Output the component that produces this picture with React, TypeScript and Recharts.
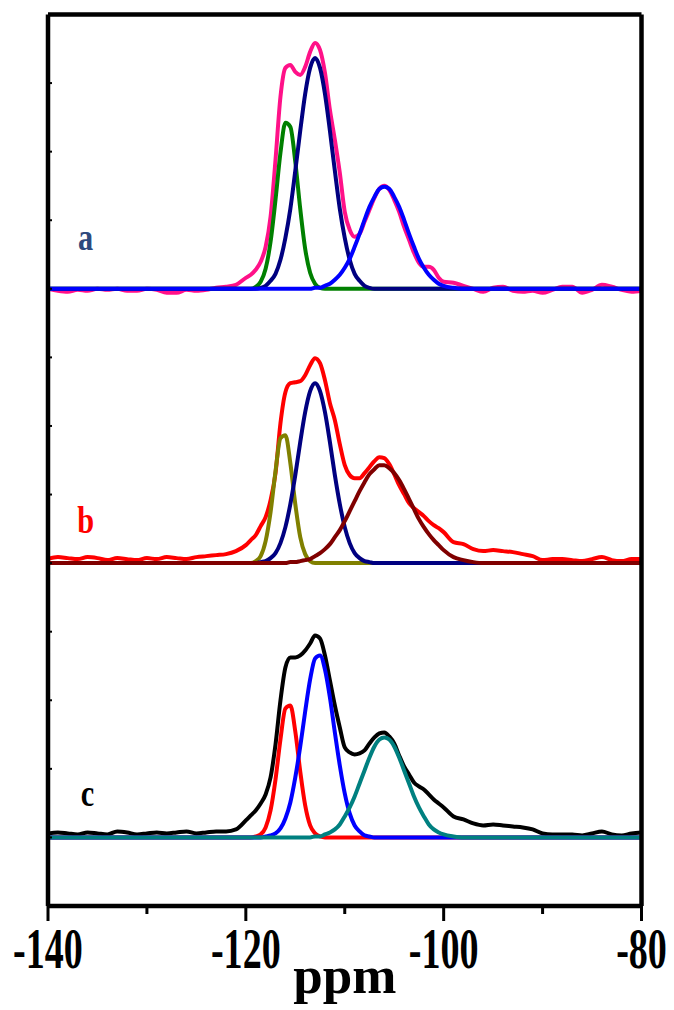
import { ComposedChart, Line, XAxis, YAxis, ReferenceDot } from 'recharts';

// chemical shift grid (ppm); finer steps across the Q-region peaks
const ppmGrid = [
  -140, -139, -138, -137, -136, -135, -134, -133, -132, -131, -130, -129, -128, -127, -126, -125, -124, -123, -122, -121,
  -120, -119.5, -119, -118.5, -118, -117.5, -117, -116.5, -116, -115.5, -115, -114.5, -114, -113.5, -113, -112.5, -112,
  -111.5, -111, -110.5, -110, -109.5, -109, -108.5, -108, -107.5, -107, -106.5, -106, -105.5, -105, -104.5, -104,
  -103.5, -103, -102.5, -102, -101.5, -101, -100.5, -100,
  -99, -98, -97, -96, -95, -94, -93, -92, -91, -90, -89, -88, -87, -86, -85, -84, -83, -82, -81, -80,
];

const xTicks = [-140, -130, -120, -110, -100, -90, -80];
const leftTicks = [0, 100, 200, 300, 400, 500, 600, 700, 800, 900, 1000, 1100, 1200, 1300];
const rightTicks = [0, 100, 200, 300, 400, 500, 600, 700, 800, 900, 1000];

// sample a: measured spectrum and fitted Q2 / Q3 / Q4 components
const aMeasured = [
  0, -2, -3, -1, -2, 0, -1, 0, -2, -2, 0, -1, -4, -4, -1, -2, -1, 1, 2, 4,
  11, 14, 19, 27, 42, 72, 129, 192, 221, 224, 217, 214, 222, 237, 246, 239, 216, 179, 149, 116, 77,
  59, 52, 55, 67, 79, 91, 100, 103, 99, 89, 77, 62, 49, 36, 26, 22, 22, 19, 11, 7,
  6, 3, 0, -3, 1, 2, -2, -3, -2, -4, -1, 2, 2, -4, -1, 4, 2, -1, -3, -2,
];
const aFit1 = [
  0, 0, 0, 0, 0, 0, 0, 0, 0, 0, 0, 0, 0, 0, 0, 0, 0, 0, 0, 0,
  0, 0, 2, 7, 20, 47, 89, 136, 166, 162, 127, 80, 40, 16, 5, 1, 0, 0, 0, 0, 0,
  0, 0, 0, 0, 0, 0, 0, 0, 0, 0, 0, 0, 0, 0, 0, 0, 0, 0, 0, 0,
  0, 0, 0, 0, 0, 0, 0, 0, 0, 0, 0, 0, 0, 0, 0, 0, 0, 0, 0, 0,
];
const aFit2 = [
  0, 0, 0, 0, 0, 0, 0, 0, 0, 0, 0, 0, 0, 0, 0, 0, 0, 0, 0, 0,
  0, 0, 0, 1, 3, 8, 15, 29, 51, 80, 118, 158, 195, 221, 231, 221, 195, 158, 118, 80, 51,
  29, 15, 8, 3, 1, 0, 0, 0, 0, 0, 0, 0, 0, 0, 0, 0, 0, 0, 0, 0,
  0, 0, 0, 0, 0, 0, 0, 0, 0, 0, 0, 0, 0, 0, 0, 0, 0, 0, 0, 0,
];
const aFit3 = [
  0, 0, 0, 0, 0, 0, 0, 0, 0, 0, 0, 0, 0, 0, 0, 0, 0, 0, 0, 0,
  0, 0, 0, 0, 0, 0, 0, 0, 0, 0, 0, 0, 0, 0, 1, 1, 3, 5, 9, 14, 21,
  30, 42, 55, 69, 82, 92, 100, 102, 100, 92, 82, 69, 55, 42, 30, 21, 14, 9, 5, 3,
  1, 0, 0, 0, 0, 0, 0, 0, 0, 0, 0, 0, 0, 0, 0, 0, 0, 0, 0, 0,
];

// sample b
const bMeasured = [
  4, 6, 5, 4, 6, 5, 3, 5, 4, 3, 5, 4, 6, 5, 4, 6, 7, 8, 9, 12,
  18, 23, 28, 37, 46, 63, 90, 140, 171, 180, 181, 182, 188, 198, 205, 200, 183, 160, 143, 119, 98,
  88, 85, 85, 90, 96, 102, 106, 105, 99, 89, 78, 69, 60, 55, 51, 47, 42, 38, 35, 31,
  21, 19, 14, 12, 13, 12, 11, 9, 7, 3, 4, 4, 3, 2, 4, 6, 3, 2, 4, 4,
];
const bFit1 = [
  0, 0, 0, 0, 0, 0, 0, 0, 0, 0, 0, 0, 0, 0, 0, 0, 0, 0, 0, 0,
  0, 0, 2, 7, 22, 51, 92, 125, 128, 100, 59, 26, 9, 2, 0, 0, 0, 0, 0, 0, 0,
  0, 0, 0, 0, 0, 0, 0, 0, 0, 0, 0, 0, 0, 0, 0, 0, 0, 0, 0, 0,
  0, 0, 0, 0, 0, 0, 0, 0, 0, 0, 0, 0, 0, 0, 0, 0, 0, 0, 0, 0,
];
const bFit2 = [
  0, 0, 0, 0, 0, 0, 0, 0, 0, 0, 0, 0, 0, 0, 0, 0, 0, 0, 0, 0,
  0, 0, 0, 1, 2, 5, 10, 20, 36, 59, 88, 121, 151, 172, 180, 172, 151, 121, 88, 59, 36,
  20, 10, 5, 2, 1, 0, 0, 0, 0, 0, 0, 0, 0, 0, 0, 0, 0, 0, 0, 0,
  0, 0, 0, 0, 0, 0, 0, 0, 0, 0, 0, 0, 0, 0, 0, 0, 0, 0, 0, 0,
];
const bFit3 = [
  0, 0, 0, 0, 0, 0, 0, 0, 0, 0, 0, 0, 0, 0, 0, 0, 0, 0, 0, 0,
  0, 0, 0, 0, 0, 0, 0, 0, 0, 1, 1, 2, 3, 4, 7, 10, 14, 19, 26, 33, 42,
  52, 62, 72, 81, 89, 94, 98, 98, 95, 90, 83, 74, 64, 54, 44, 36, 29, 23, 18, 13,
  6, 3, 1, 0, 0, 0, 0, 0, 0, 0, 0, 0, 0, 0, 0, 0, 0, 0, 0, 0,
];

// sample c
const cMeasured = [
  4, 5, 4, 3, 5, 4, 3, 6, 5, 3, 4, 5, 4, 5, 6, 4, 5, 6, 6, 8,
  17, 22, 27, 34, 43, 60, 93, 137, 170, 180, 180, 182, 187, 194, 202, 199, 182, 157, 132, 110, 90,
  85, 83, 84, 87, 94, 100, 104, 105, 101, 94, 82, 71, 63, 55, 51, 48, 43, 38, 34, 30,
  21, 18, 14, 12, 13, 12, 11, 10, 8, 4, 3, 3, 3, 2, 4, 6, 3, 2, 4, 5,
];
const cFit1 = [
  0, 0, 0, 0, 0, 0, 0, 0, 0, 0, 0, 0, 0, 0, 0, 0, 0, 0, 0, 0,
  0, 0, 1, 3, 10, 27, 58, 98, 129, 132, 106, 66, 32, 12, 4, 1, 0, 0, 0, 0, 0,
  0, 0, 0, 0, 0, 0, 0, 0, 0, 0, 0, 0, 0, 0, 0, 0, 0, 0, 0, 0,
  0, 0, 0, 0, 0, 0, 0, 0, 0, 0, 0, 0, 0, 0, 0, 0, 0, 0, 0, 0,
];
const cFit2 = [
  0, 0, 0, 0, 0, 0, 0, 0, 0, 0, 0, 0, 0, 0, 0, 0, 0, 0, 0, 0,
  0, 0, 0, 0, 1, 2, 4, 9, 19, 35, 60, 91, 126, 158, 179, 182, 168, 140, 105, 72, 44,
  24, 12, 6, 2, 1, 0, 0, 0, 0, 0, 0, 0, 0, 0, 0, 0, 0, 0, 0, 0,
  0, 0, 0, 0, 0, 0, 0, 0, 0, 0, 0, 0, 0, 0, 0, 0, 0, 0, 0, 0,
];
const cFit3 = [
  0, 0, 0, 0, 0, 0, 0, 0, 0, 0, 0, 0, 0, 0, 0, 0, 0, 0, 0, 0,
  0, 0, 0, 0, 0, 0, 0, 0, 0, 0, 0, 0, 0, 0, 1, 1, 3, 5, 8, 13, 21,
  30, 41, 54, 67, 80, 91, 98, 100, 98, 91, 80, 67, 54, 41, 30, 21, 13, 8, 5, 3,
  1, 0, 0, 0, 0, 0, 0, 0, 0, 0, 0, 0, 0, 0, 0, 0, 0, 0, 0, 0,
];

// intensities are in a.u.; spectra are stacked with a vertical offset
const INTENSITY_SCALE = 100 / 68.6;

const series = [
  { key: 'aMeasured', values: aMeasured, offset: 900, color: '#FF1188' },
  { key: 'aFit1', values: aFit1, offset: 900, color: '#008000' },
  { key: 'aFit2', values: aFit2, offset: 900, color: '#000080' },
  { key: 'aFit3', values: aFit3, offset: 900, color: '#0000FF' },
  { key: 'bMeasured', values: bMeasured, offset: 500, color: '#FF0000' },
  { key: 'bFit1', values: bFit1, offset: 500, color: '#808000' },
  { key: 'bFit2', values: bFit2, offset: 500, color: '#000080' },
  { key: 'bFit3', values: bFit3, offset: 500, color: '#800000' },
  { key: 'cMeasured', values: cMeasured, offset: 100, color: '#000000' },
  { key: 'cFit1', values: cFit1, offset: 100, color: '#FF0000' },
  { key: 'cFit2', values: cFit2, offset: 100, color: '#0000FF' },
  { key: 'cFit3', values: cFit3, offset: 100, color: '#008080' },
];

const sampleTags = [
  { text: 'a', ppm: -136.2, y: 956, color: '#2E4A7D' },
  { text: 'b', ppm: -136.2, y: 544, color: '#FF0000' },
  { text: 'c', ppm: -136.0, y: 146, color: '#000000' },
];

const chartData = ppmGrid.map((ppm, i) => {
  const row: Record<string, number> = { ppm };
  series.forEach((s) => {
    row[s.key] = s.offset + s.values[i] * INTENSITY_SCALE;
  });
  return row;
});

const SERIF = '"Liberation Serif", "Times New Roman", serif';
const FRAME = { stroke: '#000', strokeWidth: 4.5 };

const PpmTick = ({ x, y, payload }: any) => {
  const major = payload.value % 20 === 0;
  return (
    <g>
      <line x1={x} x2={x} y1={y} y2={y + (major ? 15 : 8)} stroke="#000" strokeWidth={3} />
      {major && (
        <text
          transform={`translate(${x},${y + 62}) scale(0.68,1)`}
          textAnchor="middle"
          fontFamily={SERIF}
          fontWeight="bold"
          fontSize={56}
          fill="#000"
        >
          {payload.value}
        </text>
      )}
    </g>
  );
};

const PpmLabel = ({ viewBox }: any) => (
  <text
    x={viewBox.x + viewBox.width / 2}
    y={viewBox.y + 87}
    textAnchor="middle"
    fontFamily={SERIF}
    fontWeight="bold"
    fontSize={53}
    fill="#000"
  >
    ppm
  </text>
);

const tagRenderer = (text: string, color: string) => ({ viewBox }: any) => (
  <text
    transform={`translate(${viewBox.x + viewBox.width / 2},${viewBox.y + viewBox.height / 2}) scale(0.82,1)`}
    textAnchor="middle"
    fontFamily={SERIF}
    fontWeight="bold"
    fontSize={37}
    fill={color}
  >
    {text}
  </text>
);

const noTick = () => <g />;

export default function App() {
  return (
    <div style={{ width: 674, height: 1010, background: '#fff' }}>
      <style>{'body{margin:0}'}</style>
      <ComposedChart
        width={674}
        height={1010}
        data={chartData}
        margin={{ top: 13.5, right: 31.5, bottom: 103, left: 48 }}
      >
        <XAxis
          dataKey="ppm"
          type="number"
          domain={[-140, -80]}
          ticks={xTicks}
          interval={0}
          height={1}
          tickSize={0}
          tickMargin={0}
          tickLine={false}
          tick={<PpmTick />}
          axisLine={FRAME}
          allowDataOverflow
          label={{ content: PpmLabel }}
        />
        <XAxis
          xAxisId="top"
          orientation="top"
          dataKey="ppm"
          type="number"
          domain={[-140, -80]}
          height={1}
          tick={false}
          tickLine={false}
          axisLine={FRAME}
        />
        <YAxis
          type="number"
          domain={[0, 1300]}
          ticks={leftTicks}
          interval={0}
          width={1}
          mirror
          tickSize={4}
          tick={noTick}
          tickLine={{ stroke: '#000', strokeWidth: 2 }}
          axisLine={FRAME}
          allowDataOverflow
        />
        <YAxis
          yAxisId="right"
          orientation="right"
          type="number"
          domain={[0, 1000]}
          ticks={rightTicks}
          interval={0}
          width={1}
          tickSize={4}
          tick={noTick}
          tickLine={{ stroke: '#000', strokeWidth: 2 }}
          axisLine={FRAME}
        />
        {series.map((s) => (
          <Line
            key={s.key}
            type="monotone"
            dataKey={s.key}
            stroke={s.color}
            strokeWidth={4}
            dot={false}
            activeDot={false}
            isAnimationActive={false}
          />
        ))}
        {sampleTags.map((t) => (
          <ReferenceDot
            key={t.text}
            x={t.ppm}
            y={t.y}
            r={1}
            fill="none"
            stroke="none"
            ifOverflow="visible"
            label={{ content: tagRenderer(t.text, t.color) }}
          />
        ))}
      </ComposedChart>
    </div>
  );
}
